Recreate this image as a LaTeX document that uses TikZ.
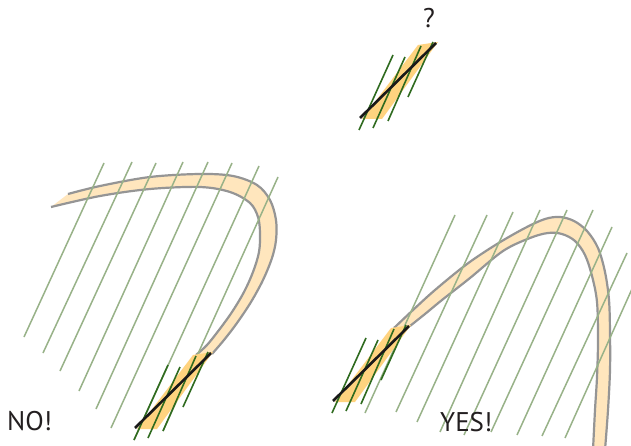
\documentclass[tikz,border=0pt]{standalone}
\usepackage{fontspec}
\setmainfont{PT Sans}
\definecolor{hatchlight}{HTML}{98B288}
\definecolor{hatchdark}{HTML}{2F6B1F}
\definecolor{bandfill}{HTML}{FFE6BD}
\definecolor{piecefill}{HTML}{FFD37F}
\definecolor{edgegray}{HTML}{959595}
\definecolor{textdark}{HTML}{231F20}
\tikzset{
  lighthatch/.style={draw=hatchlight, line width=1.5pt, line cap=butt},
  darkhatch/.style={draw=hatchdark, line width=1.6pt, line cap=butt},
  bandedge/.style={draw=edgegray, line width=2.2pt, line join=round},
  tangentline/.style={draw=black!90, line width=2.6pt, line cap=butt},
  label/.style={text=textdark, font=\fontsize{27}{30}\selectfont, inner sep=0pt},
}
\newcommand{\hatchpiece}[2]{%
  \begin{scope}[shift={(#1,#2)}]
    \fill[piecefill] (2,1) -- (22,1) -- (78,-76) -- (58,-73) -- cycle;
    \draw[darkhatch] (33,-63) -- (-1,12);
    \draw[darkhatch] (45,-61) -- (13,10);
    \draw[darkhatch] (61,-72) -- (28,3);
    \draw[darkhatch] (73,-76) -- (48,-21);
    \draw[tangentline] (0,0) -- (76,-75);
  \end{scope}}
\begin{document}
\begin{tikzpicture}[x=1pt,y=-1pt]
\useasboundingbox (0,0) rectangle (631,446);
\clip (0,0) rectangle (631,446);
\fill[white] (0,0) rectangle (631,446);

% ---------- left panel: band ----------
\fill[bandfill] plot[smooth,tension=0.55] coordinates {(68,194) (100,186) (150,177) (200,174) (233,176) (257,185) (270,200) (276,220) (276,240) (272,258) (263,280) (251,302) (237,323) (224,340) (212,354)}
  -- plot[smooth,tension=0.55] coordinates {(196,355) (207,345) (219,330) (232,312) (244,292) (253,272) (259,252) (260,233) (258,217) (250,203) (230,192) (200,187) (150,189) (100,196) (51,207)} -- cycle;
\draw[bandedge] plot[smooth,tension=0.55] coordinates {(68,194) (100,186) (150,177) (200,174) (233,176) (257,185) (270,200) (276,220) (276,240) (272,258) (263,280) (251,302) (237,323) (224,340) (212,354)};
\draw[bandedge] plot[smooth,tension=0.55] coordinates {(196,355) (207,345) (219,330) (232,312) (244,292) (253,272) (259,252) (260,233) (258,217) (250,203) (230,192) (200,187) (150,189) (100,196) (51,207)};

% left hatches
\draw[lighthatch] (104,163) -- (24,337);
\draw[lighthatch] (132,162) -- (43,353);
\draw[lighthatch] (156,163) -- (60,371);
\draw[lighthatch] (183,162) -- (79,391);
\draw[lighthatch] (208,162) -- (96,409);
\draw[lighthatch] (232,163) -- (111,428);
\draw[lighthatch] (259,166) -- (134,440);
\draw[lighthatch] (278,177) -- (163,431);

\hatchpiece{135}{428}

% ---------- right panel: band ----------
\fill[bandfill] plot[smooth,tension=0.55] coordinates {(394,328) (413,310) (435,290) (467,264) (497,244) (525,228) (545,219) (560,217) (574,221) (587,231) (598,248) (605,272) (609,300) (610,333) (610,370) (608,410) (605,450)}
  -- plot[smooth,tension=0.55] coordinates {(593,450) (595,410) (597,377) (598,340) (597,302) (592,276) (585,255) (575,241) (562,234) (548,233) (530,238) (503,251) (470,278) (442,300) (425,314) (410,326)} -- cycle;
\draw[bandedge] plot[smooth,tension=0.55] coordinates {(394,328) (413,310) (435,290) (467,264) (497,244) (525,228) (545,219) (560,217) (574,221) (587,231) (598,248) (605,272) (609,300) (610,333) (610,370) (608,410) (605,450)};
\draw[bandedge] plot[smooth,tension=0.55] coordinates {(593,450) (595,410) (597,377) (598,340) (597,302) (592,276) (585,255) (575,241) (562,234) (548,233) (530,238) (503,251) (470,278) (442,300) (425,314) (410,326)};

% right hatches
\draw[lighthatch] (455,215) -- (365,413);
\draw[lighthatch] (487,215) -- (396,412);
\draw[lighthatch] (513,212) -- (417,422);
\draw[lighthatch] (540,210) -- (440,432);
\draw[lighthatch] (567,210) -- (464,435);
\draw[lighthatch] (593,210) -- (491,432);
\draw[lighthatch] (612,227) -- (517,435);
\draw[lighthatch] (627,253) -- (542,436);
\draw[lighthatch] (645,260) -- (565,438);

\hatchpiece{333}{401}

% ---------- isolated piece ----------
\hatchpiece{360}{118}

% ---------- labels ----------
\node[label, anchor=base west] (no) at (7,430) {NO!};
\node[label, anchor=base west] (yes) at (440,431) {YES!};
\node[label, anchor=base] (q) at (429,28) {?};
\end{tikzpicture}
\end{document}
